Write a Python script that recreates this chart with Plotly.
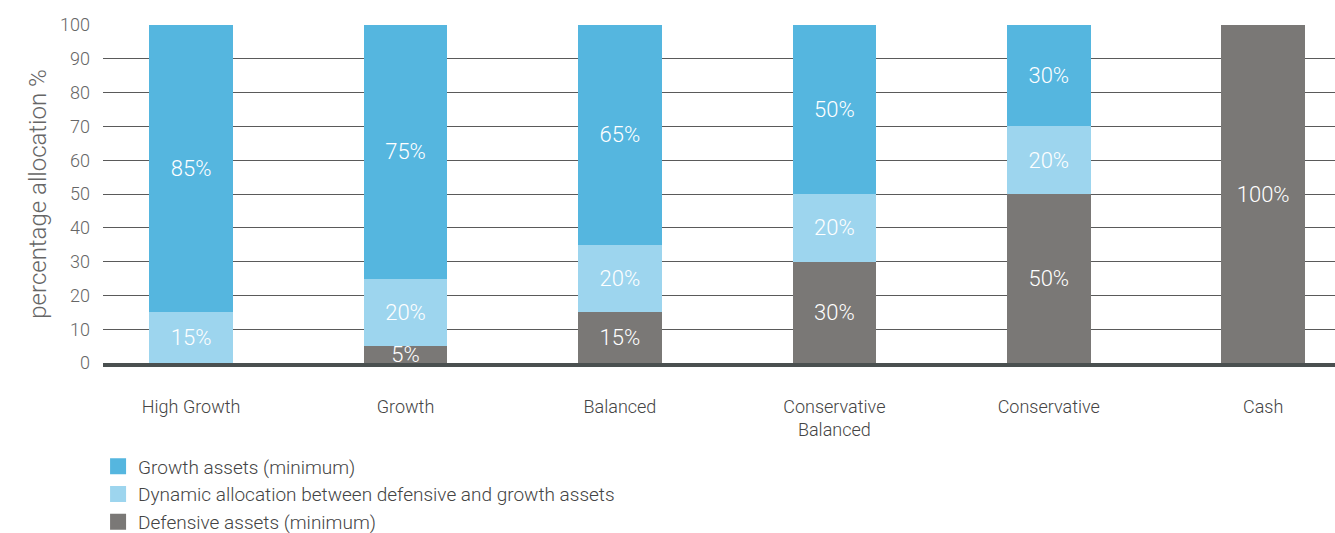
import plotly.graph_objects as go

categories = ["High Growth", "Growth", "Balanced", "Conservative<br>Balanced", "Conservative", "Cash"]
defensive = [0, 5, 15, 30, 50, 100]
dynamic = [15, 20, 20, 20, 20, 0]
growth = [85, 75, 65, 50, 30, 0]
y_ticks = [0, 10, 20, 30, 40, 50, 60, 70, 80, 90, 100]

series = [
    ("Defensive assets (minimum)", defensive, "#7a7876"),
    ("Dynamic allocation between defensive and growth assets", dynamic, "#9dd5ee"),
    ("Growth assets (minimum)", growth, "#55b6df"),
]

FONT = "Roboto"
W = 300
fig = go.Figure()
for name, vals, col in series:
    fig.add_trace(go.Bar(
        x=categories, y=vals, name=name, showlegend=False,
        marker=dict(color=col, line=dict(width=0)),
        text=[f"{v}%" if v else "" for v in vals],
        textposition="inside", insidetextanchor="middle",
        constraintext="none", cliponaxis=False,
        textfont=dict(color="white", size=22, family=FONT, weight=W),
        width=0.39,
    ))
# legend entries with larger square swatches
for name, vals, col in series:
    fig.add_trace(go.Scatter(
        x=[None], y=[None], name=name, mode="markers",
        marker=dict(symbol="square", size=22, color=col, line=dict(width=0)),
    ))

fig.update_layout(
    width=1335, height=533,
    barmode="stack",
    margin=dict(l=103, r=0, t=25, b=170, autoexpand=False),
    plot_bgcolor="white", paper_bgcolor="white",
    font=dict(family=FONT, color="#555", weight=W),
    legend=dict(
        traceorder="reversed", x=-0.004, xanchor="left", y=-0.25, yanchor="top",
        font=dict(size=19, color="#444", family=FONT, weight=W), bgcolor="rgba(0,0,0,0)",
        tracegroupgap=0, itemsizing="trace",
    ),
    showlegend=True,
)
fig.update_xaxes(
    range=[-0.411, 5.335], showgrid=False, zeroline=False,
    showline=True, linecolor="#4a5050", linewidth=4, layer="above traces",
    tickfont=dict(size=18, color="#444", family=FONT, weight=W),
    ticklabelstandoff=24, ticks="",
)
fig.update_yaxes(
    range=[0, 100], tickvals=y_ticks, showgrid=True, gridcolor="#5a5a5a", gridwidth=1,
    zeroline=False, ticks="", ticklabelstandoff=12,
    tickfont=dict(size=18, color="#666", family=FONT, weight=W),
    title=dict(text="percentage allocation %", font=dict(size=24, color="#666", family=FONT, weight=W), standoff=6),
    automargin=False,
)
fig.write_html("out.html")
